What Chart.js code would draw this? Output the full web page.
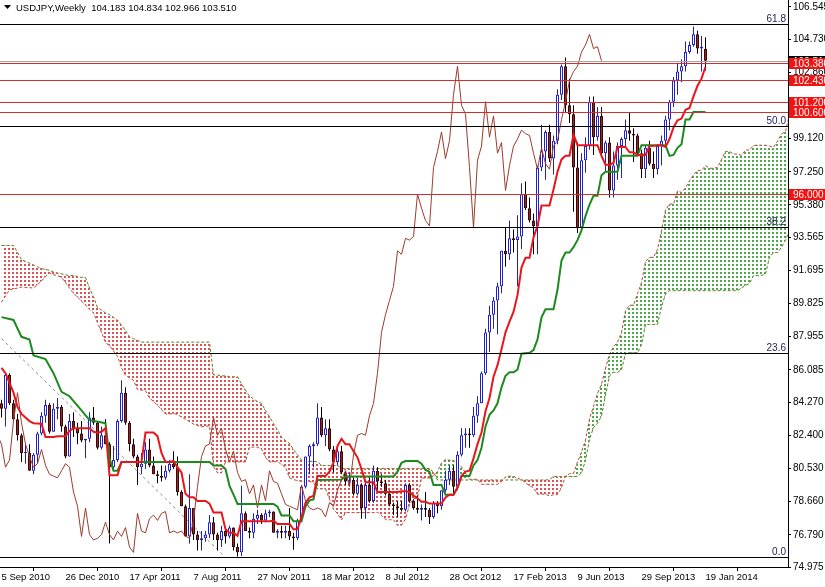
<!DOCTYPE html>
<html><head><meta charset="utf-8">
<script src="https://cdn.jsdelivr.net/npm/chart.js"></script>
<style>html,body{margin:0;padding:0;background:#fff;overflow:hidden}canvas{display:block}</style>
</head><body>
<canvas id="c" width="825" height="587"></canvas>
<script>
// ---- data (weekly bars, index 0 = week of 5 Sep 2010) ----
const titleText = 'USDJPY,Weekly  104.183 104.834 102.966 103.510';
const xTickIdx = [0,16,32,48,64,80,96,112,128,144,160,176];
const xTickLabels = ['5 Sep 2010','26 Dec 2010','17 Apr 2011','7 Aug 2011','27 Nov 2011','18 Mar 2012','8 Jul 2012','28 Oct 2012','17 Feb 2013','9 Jun 2013','29 Sep 2013','19 Jan 2014'];
const yTickVals = [74.975,76.790,78.660,80.530,82.400,84.270,86.085,87.955,89.825,91.695,93.565,95.380,97.250,99.120,100.990,102.860,104.730,106.545];

const opens = [84.2,83.9,85.8,84.2,83.3,82.4,81.4,81.4,80.4,81.3,
82.5,83.5,84.1,82.6,83.9,84.0,82.9,81.2,83.2,82.8,
82.5,82.1,82.2,83.4,83.1,81.7,82.4,81.9,80.6,81.0,
83.2,84.8,83.1,81.9,81.2,80.6,80.8,81.6,80.7,80.2,
80.1,80.0,80.4,80.8,80.6,79.2,78.4,76.7,78.3,76.8,
76.5,76.6,76.8,77.5,76.8,76.5,77.0,76.7,77.2,76.1,
75.8,78.0,77.0,76.9,77.7,77.9,77.6,78.0,78.1,76.9,
77.0,76.9,77.0,76.7,76.6,77.6,79.5,81.2,81.8,81.9,
83.4,82.4,82.8,81.6,80.9,81.5,80.3,79.8,79.9,79.1,
79.6,78.3,79.6,78.7,80.4,79.8,79.7,79.1,78.5,78.4,
78.3,78.2,79.6,78.7,78.3,78.2,78.3,78.2,77.8,78.6,
78.4,79.3,79.9,80.4,79.5,81.3,82.4,82.5,82.4,83.5,
84.2,85.9,88.2,89.2,90.0,90.8,92.8,92.6,93.5,93.4,
93.6,96.0,95.2,94.5,94.2,97.5,98.4,99.5,98.0,99.0,
101.6,103.2,101.0,100.5,97.5,94.1,97.9,98.7,101.2,99.2,
100.4,98.3,98.9,96.2,97.6,98.7,99.1,99.6,99.4,99.3,
98.3,97.4,98.6,97.7,97.4,98.7,99.0,100.2,101.2,102.4,
102.9,103.2,104.0,104.4,105.0,104.2,104.183];
const highs = [84.4,85.95,85.9,84.4,83.6,82.5,81.9,81.9,81.4,82.6,
83.7,84.4,84.2,84.2,84.5,84.1,83.0,83.6,83.7,83.1,
83.2,82.2,83.7,84.0,83.2,82.9,83.3,82.0,81.8,83.3,
85.5,85.1,83.2,82.2,81.3,81.4,82.0,82.2,81.2,80.4,
80.7,80.7,81.0,81.5,81.2,79.3,78.5,80.2,78.3,77.0,
77.0,77.0,77.9,77.8,76.9,77.3,77.1,77.3,77.2,76.3,
79.55,78.1,77.2,78.0,78.2,78.0,78.2,78.2,78.1,77.1,
77.3,77.3,78.3,76.9,77.7,79.6,81.2,81.9,82.0,84.2,
84.0,83.3,83.3,81.8,81.8,81.8,80.4,80.3,80.0,80.0,
79.7,79.9,80.0,80.7,80.6,80.2,79.9,79.3,78.6,78.7,
78.7,79.7,79.7,78.8,79.0,78.5,79.2,78.3,78.7,78.7,
79.3,80.4,80.7,80.7,81.5,82.8,82.8,82.8,84.0,84.6,
86.0,88.4,89.7,90.2,91.0,92.8,94.1,94.5,94.0,94.8,
96.6,96.7,95.8,94.9,97.6,99.9,99.6,99.9,99.3,101.9,
103.3,103.7,102.5,101.0,98.9,98.3,99.2,101.5,101.5,100.9,
100.9,99.0,99.2,98.4,98.9,99.2,100.2,100.6,99.7,99.4,
98.5,98.7,99.0,98.4,98.8,99.3,100.4,101.3,102.6,103.4,
103.6,104.6,104.6,105.44,105.2,104.9,104.834];
const lows = [83.4,82.9,84.1,83.2,82.1,80.9,80.8,80.4,80.2,80.8,
82.4,83.1,82.5,82.6,83.3,82.6,81.1,81.2,82.3,81.9,
82.0,81.1,82.0,83.0,81.6,81.6,81.9,76.3,80.5,80.9,
83.1,83.0,81.5,81.1,79.6,80.2,80.5,80.6,80.2,79.7,
79.8,79.9,80.3,80.5,79.0,78.4,76.7,76.3,76.5,75.9,
75.9,76.4,76.6,76.5,75.9,76.1,76.3,76.6,75.9,75.56,
75.6,77.0,76.6,76.6,77.4,77.4,77.5,77.8,76.9,76.6,
76.6,76.6,76.5,75.95,76.5,77.5,79.4,80.2,80.6,81.8,
82.3,81.8,81.5,80.3,80.7,80.2,79.6,79.6,79.0,79.0,
77.7,77.7,78.6,78.6,79.3,79.5,79.0,78.4,77.9,77.8,
78.1,78.1,78.6,78.2,78.0,77.6,77.8,77.4,77.7,78.0,
78.2,79.2,79.6,79.1,79.3,81.2,81.7,81.7,82.3,83.1,
84.2,85.8,87.1,88.4,88.1,90.4,91.9,92.3,92.7,90.8,
92.9,95.1,94.4,92.6,92.6,97.3,96.8,97.8,97.1,98.8,
101.3,100.6,100.0,95.0,93.8,94.0,97.2,98.5,98.2,99.0,
98.2,97.3,95.8,95.8,96.8,96.9,98.7,99.0,97.8,98.2,
96.9,96.9,97.6,96.9,97.1,97.6,98.8,99.6,100.9,101.6,
102.3,102.9,103.9,104.3,103.9,102.9,102.966];
const closes = [83.9,85.8,84.2,83.3,82.4,81.4,81.4,80.4,81.3,82.5,
83.5,84.1,82.6,83.9,84.0,82.9,81.2,83.2,82.8,82.5,
82.1,82.2,83.4,83.1,81.7,82.4,81.9,80.6,81.0,83.2,
84.8,83.1,81.9,81.2,80.6,80.8,81.6,80.7,80.2,80.1,
80.0,80.4,80.8,80.6,79.2,78.4,76.7,78.3,76.8,76.5,
76.6,76.8,77.5,76.8,76.5,77.0,76.7,77.2,76.1,75.8,
78.0,77.0,76.9,77.7,77.9,77.6,78.0,78.1,76.9,77.0,
76.9,77.0,76.7,76.6,77.6,79.5,81.2,81.8,81.9,83.4,
82.4,82.8,81.6,80.9,81.5,80.3,79.8,79.9,79.1,79.6,
78.3,79.6,78.7,80.4,79.8,79.7,79.1,78.5,78.4,78.3,
78.2,79.6,78.7,78.3,78.2,78.3,78.2,77.8,78.6,78.4,
79.3,79.9,80.4,79.5,81.3,82.4,82.5,82.4,83.5,84.2,
85.9,88.2,89.2,90.0,90.8,92.8,92.6,93.5,93.4,93.6,
96.0,95.2,94.5,94.2,97.5,98.4,99.5,98.0,99.0,101.6,
103.2,101.0,100.5,97.5,94.1,97.9,98.7,101.2,99.2,100.4,
98.3,98.9,96.2,97.6,98.7,99.1,99.6,99.4,99.3,98.3,
97.4,98.6,97.7,97.4,98.7,99.0,100.2,101.2,102.4,102.9,
103.2,104.0,104.4,105.0,104.2,104.3,103.510];

// Ichimoku Tenkan/Kijun as [week index, price] vertices
const tenkanPts = [[0,86.2],[1,85.9],[3,84.8],[4,84.0],[5,83.6],[7,83.2],[8,83.08],[10,83.05],[11,82.3],[13,82.3],[14,82.35],[16,82.35],[17,82.65],[18,82.8],[22,82.8],[23,82.6],[24,82.55],[25,82.6],[26,82.8],[27,80.15],[29,80.15],[30,80.9],[35,80.9],[36,82.55],[38,82.55],[39,82.35],[40,81.4],[41,80.9],[42,80.9],[43,80.95],[44,80.6],[45,80.3],[46,79.1],[47,78.9],[48,78.9],[49,78.7],[51,78.7],[52,78.55],[53,78.05],[55,78.05],[56,77.1],[57,76.9],[58,76.9],[59,76.73],[60,77.55],[67,77.55],[68,77.58],[69,77.4],[72,77.4],[73,77.1],[74,77.1],[75,77.8],[76,78.6],[77,78.9],[78,78.98],[79,80.1],[81,80.1],[82,80.35],[83,80.85],[84,81.8],[85,82.2],[86,81.9],[87,81.9],[88,81.5],[89,81.15],[90,80.5],[91,79.75],[93,79.75],[94,79.2],[99,79.2],[100,79.25],[101,79.25],[102,79.2],[103,79.0],[104,78.85],[105,78.65],[106,78.65],[107,78.55],[110,78.55],[111,78.9],[112,79.05],[113,79.05],[114,79.45],[115,80.1],[116,80.35],[117,80.4],[118,81.1],[119,81.9],[120,82.55],[121,83.75],[122,84.5],[123,85.7],[124,86.35],[125,87.25],[126,88.2],[127,88.8],[128,89.35],[129,90.3],[130,91.85],[131,92.4],[132,92.4],[133,93.55],[134,94.2],[135,95.35],[137,95.35],[138,96.25],[139,97.25],[140,97.95],[141,98.15],[142,98.15],[143,99.35],[144,98.75],[149,98.75],[150,98.15],[151,97.65],[152,97.65],[153,97.75],[154,98.65],[156,98.65],[157,98.35],[158,98.35],[159,98.2],[161,98.2],[162,98.7],[165,98.75],[166,98.65],[167,99.1],[168,99.75],[169,100.15],[170,100.25],[171,100.75],[172,100.85],[173,101.5],[174,102.1],[175,102.5],[176,103.17]];
const kijunPts = [[0,89.06],[3,88.9],[5,87.95],[7,87.8],[8,86.9],[11,86.7],[13,85.9],[15,84.85],[17,84.6],[20,83.8],[22,83.25],[26,83.08],[27,81.1],[28,80.4],[29,80.4],[30,80.9],[52,80.9],[53,80.7],[55,80.7],[56,80.5],[57,79.55],[58,79.05],[59,78.53],[68,78.53],[69,78.38],[70,77.88],[72,77.88],[73,77.55],[75,77.55],[76,78.38],[77,78.73],[78,78.78],[79,79.88],[85,79.9],[86,80.08],[98,80.08],[99,80.35],[100,80.85],[101,80.95],[104,80.95],[105,80.8],[106,80.45],[107,80.35],[108,79.6],[110,79.6],[111,79.05],[113,79.05],[114,79.45],[115,80.1],[117,80.1],[118,80.7],[119,81.0],[120,81.7],[121,82.9],[122,83.55],[123,83.8],[124,84.2],[125,85.1],[126,85.75],[127,85.95],[128,85.95],[129,86.1],[130,87.0],[132,87.05],[133,87.2],[134,87.8],[135,89.05],[136,89.5],[138,89.5],[139,90.6],[140,92.25],[141,92.7],[142,92.7],[143,93.0],[144,93.4],[145,93.95],[146,94.75],[147,95.4],[148,95.9],[149,95.9],[150,97.05],[151,97.25],[154,97.25],[155,98.15],[159,98.15],[160,98.75],[166,98.75],[167,98.15],[168,98.2],[169,98.6],[170,98.8],[171,100.2],[172,100.2],[173,100.62],[176,100.62]];
// Senkou spans, one value per week index 0..197 (cloud runs 26 weeks past the last bar)
const spanA = [89.9,90.25,90.6,90.65,90.7,90.75,90.73,90.72,90.7,90.9,
91.1,91.35,91.55,91.45,91.4,91.3,91.0,90.7,90.4,90.2,
89.95,89.75,89.5,89.3,88.75,88.2,87.63,87.45,87.15,86.85,
86.2,85.78,85.64,85.5,84.99,84.95,84.9,84.5,84.3,84.1,
83.85,83.6,83.6,83.63,83.57,83.43,83.3,83.17,83.03,82.95,
82.88,82.9,82.94,80.63,80.28,80.28,80.9,80.9,80.9,80.9,
80.9,80.9,81.73,81.73,81.73,81.63,81.15,80.9,80.9,80.93,
80.75,80.6,80.0,79.9,79.85,79.8,79.8,79.8,79.73,79.38,
79.38,79.38,78.8,78.23,77.98,77.63,78.04,78.04,78.04,78.04,
78.04,78.04,78.04,78.04,78.06,77.89,77.64,77.64,77.64,77.33,
77.33,77.68,78.49,78.82,78.88,79.99,79.99,79.99,80.12,80.37,
80.84,81.05,80.99,80.99,80.79,80.62,80.29,79.92,79.92,79.92,
79.64,79.64,79.64,79.64,79.64,79.78,80.05,80.1,80.08,79.98,
79.9,79.73,79.55,79.45,79.08,79.08,79.08,78.98,79.05,79.05,
79.45,80.1,80.23,80.25,80.9,81.45,82.13,83.33,84.03,84.75,
85.28,86.18,86.98,87.38,87.65,88.2,89.43,89.73,89.73,90.38,
91.0,92.2,92.43,92.43,92.88,93.93,95.1,95.43,95.43,96.18,
96.08,96.35,96.75,97.08,97.33,97.33,97.6,97.45,97.45,97.5,
97.95,98.4,98.4,98.25,98.25,98.18,98.48,98.48,98.73,98.75,
98.75,98.75,98.7,98.63,98.98,99.38,99.53,100.48];
const spanB = [93.1,93.1,93.1,93.1,92.7,92.3,92.2,92.1,92.0,91.9,
91.8,91.75,91.7,91.6,91.55,91.5,91.45,91.4,91.4,91.35,
91.3,91.3,90.7,90.2,89.6,89.45,89.3,89.2,89.05,88.9,
88.6,88.3,87.95,87.85,87.75,87.65,87.65,87.65,87.65,87.65,
87.65,87.65,87.65,87.65,87.65,87.65,87.65,87.65,87.65,87.65,
87.65,87.65,87.65,85.8,85.8,85.75,85.75,85.7,85.7,85.7,
85.3,84.95,84.6,84.45,84.3,84.2,83.8,83.45,83.05,82.7,
82.3,82.1,81.95,81.6,81.3,81.0,80.95,80.93,80.93,80.9,
80.7,80.7,80.7,80.7,80.7,80.53,80.53,80.53,80.53,80.53,
80.53,80.53,80.53,80.53,80.53,80.53,80.53,80.53,80.53,80.53,
80.53,80.53,80.53,80.53,80.53,80.53,80.53,80.53,80.33,79.88,
79.88,79.88,79.88,79.88,79.88,79.88,79.88,79.88,79.88,79.88,
79.88,79.88,79.88,79.88,79.88,79.88,79.88,79.88,79.88,79.88,
79.88,79.88,79.88,79.88,79.88,79.88,79.88,79.9,80.08,80.08,
80.08,80.08,80.08,80.08,80.08,80.28,80.98,82.18,82.83,83.08,
83.48,84.65,85.75,85.95,85.95,86.1,87.0,87.05,87.05,87.05,
87.5,88.65,88.65,88.65,88.65,89.65,90.35,90.55,90.55,90.55,
90.55,90.55,90.55,90.55,90.55,90.55,90.55,90.55,90.55,90.55,
90.55,90.55,90.55,90.55,90.55,90.7,90.85,90.95,91.4,91.4,
91.4,91.5,92.45,92.7,92.7,93.0,93.4,93.95];
const chikouShift = 26;            // chikou = closes drawn 26 weeks back
const trendPts = [[0,87.85],[55.4,75.65]];
const levelLines = [103.38, 102.43, 101.20, 100.60, 96.00];
const fibPrices = [75.56, 87.02, 94.12, 99.85, 105.58];
const fibLabels = ['0.0','23.6','38.2','50.0','61.8'];
const lastPrice = 103.510;

// ---- drawing ----
const FONT = '"Liberation Sans", Arial, sans-serif';
Chart.defaults.font.family = FONT;
Chart.defaults.font.size = 10;
const el = document.getElementById('c');
const g = el.getContext('2d');
function hatch(color){
  const c = document.createElement('canvas'); c.width = 4; c.height = 4;
  const h = c.getContext('2d'); h.fillStyle = color; h.fillRect(0, 0, 2, 2);
  return g.createPattern(c, 'repeat');
}
const toXY = pts => pts.map(p => ({x:p[0], y:p[1]}));
const idx = opens.map((_, i) => i);
const bull = opens.map((o, i) => closes[i] >= o);
const BULL = '#2020c4', BEARF = '#8e2a2a', BEARL = '#3a0a0a';

const overlay = {
  id: 'overlay',
  afterDatasetsDraw(chart){
    const {ctx, chartArea:a, scales:{y}} = chart;
    ctx.save();
    ctx.beginPath(); ctx.rect(a.left, a.top, a.right - a.left, a.bottom - a.top); ctx.clip();
    ctx.lineWidth = 1;
    const hl = (v, col) => { const py = Math.round(y.getPixelForValue(v)) + 0.5; ctx.strokeStyle = col; ctx.beginPath(); ctx.moveTo(a.left, py); ctx.lineTo(a.right, py); ctx.stroke(); return py; };
    hl(lastPrice, '#a8a8a8');
    levelLines.forEach(v => hl(v, '#cc3030'));
    ctx.font = '10px ' + FONT; ctx.textAlign = 'right'; ctx.textBaseline = 'alphabetic';
    fibPrices.forEach((v, k) => { const py = hl(v, '#000'); ctx.fillStyle = '#23235e'; ctx.fillText(fibLabels[k], a.right - 2, py - 3); });
    ctx.restore();
  },
  afterDraw(chart){
    const {ctx, chartArea:a, scales:{y}} = chart;
    ctx.save();
    ctx.font = '10px ' + FONT; ctx.textBaseline = 'middle'; ctx.textAlign = 'left';
    const box = (v, bg) => { const py = Math.round(y.getPixelForValue(v)); ctx.fillStyle = bg; ctx.fillRect(a.right + 1, py - 5, chart.width - a.right - 1, 11); ctx.fillStyle = '#fff'; ctx.fillText(v.toFixed(3), a.right + 5, py + 1); };
    box(lastPrice, '#000');
    levelLines.forEach(v => box(v, '#f01414'));
    // title
    ctx.fillStyle = '#000';
    ctx.beginPath(); ctx.moveTo(4, 5); ctx.lineTo(11, 5); ctx.lineTo(7.5, 9); ctx.closePath(); ctx.fill();
    ctx.font = '9.5px ' + FONT;
    ctx.fillText(titleText, 16, 8);
    ctx.restore();
  }
};

new Chart(el, {
  type: 'bar',
  data: { datasets: [
    {type:'line', label:'Tenkan', data:toXY(tenkanPts), borderColor:'#e8161c', borderWidth:2, pointRadius:0, fill:false, order:1},
    {type:'line', label:'Kijun', data:toXY(kijunPts), borderColor:'#1d8a1d', borderWidth:2, pointRadius:0, fill:false, order:2},
    {type:'line', label:'Chikou', data:closes.map((c, k) => ({x:k - chikouShift, y:c})), borderColor:'#9c3b2c', borderWidth:1, pointRadius:0, fill:false, order:3},
    {type:'bar', label:'Body', data:idx.map(i => ({x:i, y:[opens[i], closes[i]]})), backgroundColor:bull.map(b => b ? '#ffffff' : BEARF), borderColor:bull.map(b => b ? BULL : BEARL), borderWidth:1, borderSkipped:false, barThickness:3, grouped:false, minBarLength:1, inflateAmount:0, order:4},
    {type:'bar', label:'Wick', data:idx.map(i => ({x:i, y:[lows[i], highs[i]]})), backgroundColor:bull.map(b => b ? BULL : '#000000'), borderWidth:0, barThickness:1, grouped:false, inflateAmount:0, order:5},
    {type:'line', label:'Trend', data:toXY(trendPts), borderColor:'#8c8c9c', borderWidth:1, borderDash:[3,3], pointRadius:0, fill:false, order:6},
    {type:'line', label:'SpanA', data:spanA.map((v, i) => ({x:i, y:v})), borderColor:'#b5493a', borderWidth:1, borderDash:[3,2], pointRadius:0, fill:{target:'+1', above:hatch('#4aaa4a'), below:hatch('#e05050')}, order:7},
    {type:'line', label:'SpanB', data:spanB.map((v, i) => ({x:i, y:v})), borderColor:'#5a7a22', borderWidth:1, borderDash:[3,2], pointRadius:0, fill:false, order:8}
  ]},
  options: {
    responsive:false, animation:false, events:[],
    layout:{padding:0},
    plugins:{legend:{display:false}, tooltip:{enabled:false}, title:{display:false}},
    scales:{
      x:{type:'linear', min:-0.375, max:196.625, offset:false, bounds:'data',
        grid:{display:true, drawOnChartArea:false, drawTicks:true, tickLength:4, color:'#000'},
        border:{display:true, color:'#000', width:1},
        ticks:{autoSkip:false, maxRotation:0, minRotation:0, align:'start', padding:1, color:'#000', font:{size:9.5},
          callback:(v) => { const k = xTickIdx.indexOf(v); return k >= 0 ? xTickLabels[k] : ''; }},
        afterBuildTicks:(s) => { s.ticks = xTickIdx.map(v => ({value:v})); },
        afterFit:(s) => { s.height = 20; s.paddingLeft = 0; s.paddingRight = 0; }
      },
      y:{type:'linear', position:'right', min:74.975, max:106.935, bounds:'data',
        grid:{display:true, drawOnChartArea:false, drawTicks:true, tickLength:3, color:'#000'},
        border:{display:true, color:'#000', width:1},
        ticks:{autoSkip:false, padding:2, color:'#000', callback:(v) => Number(v).toFixed(3)},
        afterBuildTicks:(s) => { s.ticks = yTickVals.map(v => ({value:v})); },
        afterFit:(s) => { s.width = 37; s.paddingTop = 0; s.paddingBottom = 0; }
      }
    }
  },
  plugins:[overlay]
});
</script>
</body></html>
